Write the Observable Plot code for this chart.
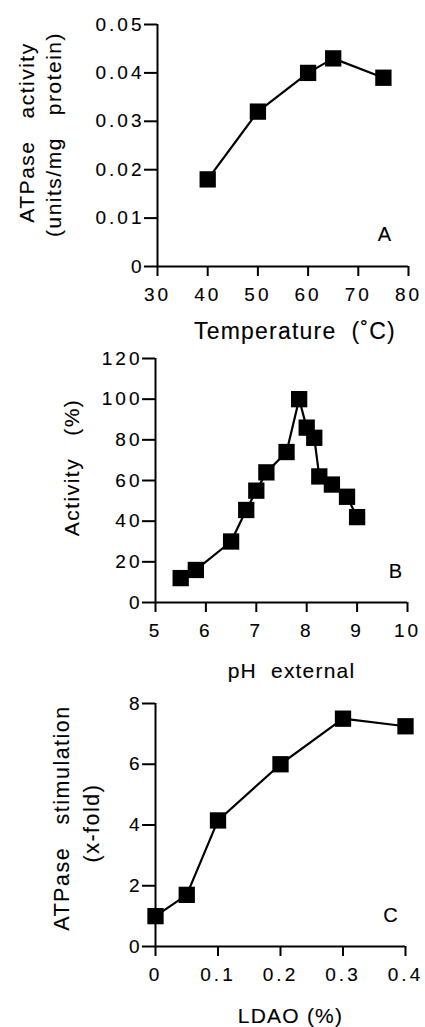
<!DOCTYPE html>
<html>
<head>
<meta charset="utf-8">
<script src="https://cdn.jsdelivr.net/npm/d3@7"></script>
<script src="https://cdn.jsdelivr.net/npm/@observablehq/plot@0.6"></script>
<style>
  html, body { margin: 0; padding: 0; background: #fff; }
  #chart { width: 425px; }
  #chart svg { display: block; }
  #chart svg text { white-space: pre; fill: #000; stroke: #000; stroke-width: 0.12px; }
  #chart .tk text { font-size: 19px; letter-spacing: 3px; }
  #chart .tk path, #chart .tk line { stroke: #000; stroke-width: 2px; }
  #chart .ylab text { letter-spacing: 1.5px; }
  #chart .xlab text { letter-spacing: 1.2px; }
</style>
</head>
<body>
<div id="chart"></div>
<script>
// ---- Panel A: temperature dependence ----
const tempC = [40, 50, 60, 65, 75];
const atpaseActivity = [0.018, 0.032, 0.040, 0.043, 0.039];
const tempTicks = [30, 40, 50, 60, 70, 80];
const activityTicks = [0, 0.01, 0.02, 0.03, 0.04, 0.05];

// ---- Panel B: pH dependence ----
const phExternal = [5.5, 5.8, 6.5, 6.8, 7.0, 7.2, 7.6, 7.85, 8.0, 8.15, 8.25, 8.5, 8.8, 9.0];
const activityPct = [12, 16, 30, 45.5, 55, 64, 74, 100, 86, 81, 62, 58, 52, 42];
const phTicks = [5, 6, 7, 8, 9, 10];
const pctTicks = [0, 20, 40, 60, 80, 100, 120];

// ---- Panel C: LDAO stimulation ----
const ldaoPct = [0, 0.05, 0.1, 0.2, 0.3, 0.4];
const stimulation = [1.0, 1.7, 4.15, 6.0, 7.5, 7.25];
const ldaoTicks = [0, 0.1, 0.2, 0.3, 0.4];
const stimTicks = [0, 2, 4, 6, 8];

const FONT = "'Liberation Sans', Arial, Helvetica, sans-serif";

function panel(cfg) {
  const data = cfg.xs.map((x, i) => ({x, y: cfg.ys[i]}));
  const marks = [
    Plot.ruleX([cfg.xDomain[0]], {stroke: "black", strokeWidth: 2}),
    Plot.ruleY([cfg.yDomain[0]], {stroke: "black", strokeWidth: 2}),
    Plot.axisX({ticks: cfg.xTicks, tickFormat: cfg.xFormat, tickSize: 10, tickPadding: 11,
      strokeWidth: 2, fontSize: 19, label: null, className: "tk"}),
    Plot.axisY({ticks: cfg.yTicks, tickFormat: cfg.yFormat, tickSize: 13, tickPadding: 0,
      strokeWidth: 2, fontSize: 19, label: null, className: "tk"}),
    Plot.line(data, {x: "x", y: "y", stroke: "black", strokeWidth: 2.2}),
    Plot.dot(data, {x: "x", y: "y", symbol: "square", r: 9.2, fill: "black", stroke: "none"}),
    ...cfg.yLabels.map(l => Plot.text([l.text], {text: d => d, frameAnchor: "left", rotate: -90,
      textAnchor: "middle", lineAnchor: "bottom", dx: l.dx, dy: l.dy, fontSize: l.size,
      className: "ylab"})),
    Plot.text([cfg.xLabel.text], {text: d => d, frameAnchor: "bottom", textAnchor: "middle",
      lineAnchor: "bottom", dx: cfg.xLabel.dx, dy: cfg.xLabel.dy, fontSize: cfg.xLabel.size,
      className: "xlab"}),
    Plot.text([cfg.tag.text], {text: d => d, frameAnchor: "bottom-right", textAnchor: "middle",
      lineAnchor: "bottom", dx: cfg.tag.dx, dy: cfg.tag.dy, fontSize: 20})
  ];
  return Plot.plot({
    width: 425,
    height: cfg.height,
    marginLeft: cfg.m[3], marginRight: cfg.m[1], marginTop: cfg.m[0], marginBottom: cfg.m[2],
    style: {fontFamily: FONT, color: "black", background: "white", overflow: "visible"},
    x: {domain: cfg.xDomain},
    y: {domain: cfg.yDomain},
    marks
  });
}

const fmt2 = d => d === 0 ? "0" : d3.format(".2f")(d);
const fmt1 = d => d === 0 ? "0" : d3.format(".1f")(d);

const chart = document.getElementById("chart");

chart.append(panel({
  xs: tempC, ys: atpaseActivity, height: 340, m: [24, 17, 74, 157],
  xDomain: [30, 80], yDomain: [0, 0.05], xTicks: tempTicks, yTicks: activityTicks,
  xFormat: d => String(d), yFormat: fmt2,
  yLabels: [
    {text: "ATPase   activity", dx: -124, dy: -13, size: 21},
    {text: "(units/mg   protein)", dx: -97, dy: -11, size: 21}
  ],
  xLabel: {text: "Temperature  (˚C)", dx: 12, dy: 72, size: 23},
  tag: {text: "A", dx: -24, dy: -26}
}));

chart.append(panel({
  xs: phExternal, ys: activityPct, height: 340, m: [18, 18, 78, 155],
  xDomain: [5, 10], yDomain: [0, 120], xTicks: phTicks, yTicks: pctTicks,
  xFormat: d => String(d), yFormat: d => String(d),
  yLabels: [
    {text: "Activity   (%)", dx: -77, dy: -13, size: 21}
  ],
  xLabel: {text: "pH  external", dx: 10, dy: 75, size: 21},
  tag: {text: "B", dx: -12, dy: -25}
}));

chart.append(panel({
  xs: ldaoPct, ys: stimulation, height: 347, m: [23, 20, 81, 155],
  xDomain: [0, 0.4], yDomain: [0, 8], xTicks: ldaoTicks, yTicks: stimTicks,
  xFormat: fmt1, yFormat: d => String(d),
  yLabels: [
    {text: "ATPase   stimulation", dx: -87, dy: -7, size: 21.5},
    {text: "(x-fold)", dx: -57, dy: -2, size: 21.5}
  ],
  xLabel: {text: "LDAO (%)", dx: 10, dy: 76, size: 21},
  tag: {text: "C", dx: -15, dy: -25}
}));
</script>
</body>
</html>
